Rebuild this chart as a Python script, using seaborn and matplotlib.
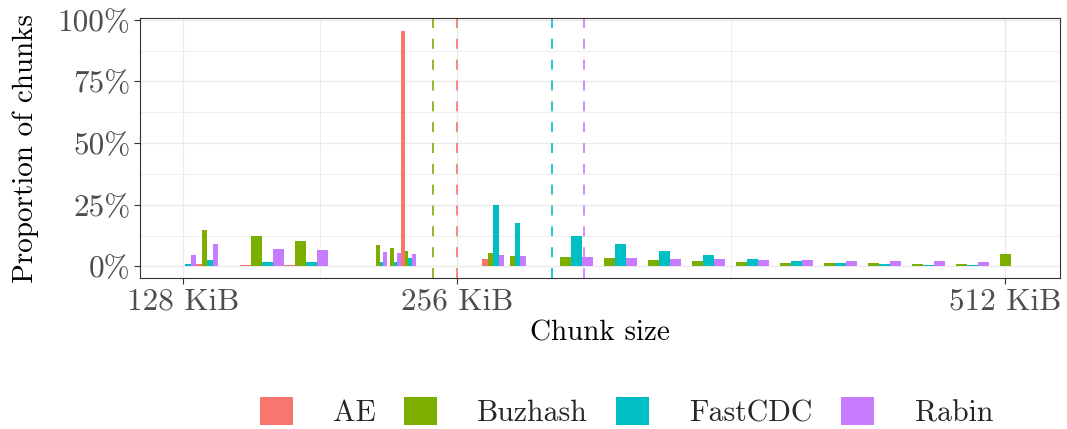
import numpy as np
import pandas as pd
import matplotlib
matplotlib.use("Agg")
import matplotlib.pyplot as plt
import seaborn as sns

# 알고리즘 / 색상 (ggplot 기본 hue)
algorithms = ["AE", "Buzhash", "FastCDC", "Rabin"]
palette = ["#F8766D", "#7CAE00", "#00BFC4", "#C77CFF"]

# 청크 크기 구간 경계 (KiB)
bin_edges = [123.8, 134.1, 144.35, 154.6, 175.2, 195.7, 216.3, 223.3, 229.8, 236.8,
             267.7, 278.0, 288.2, 299.0, 319.5, 340.0, 360.6, 381.1, 401.7, 422.2,
             442.8, 463.4, 483.9, 504.5, 525.0]

# 구간별 비율 (%)
ae_share = [0, 0.8, 0, 0.4, 0.4, 0, 0.3, 0.3, 95.5, 0, 3.1, 0.3, 0,
            0.3, 0.3, 0.3, 0.3, 0.3, 0.3, 0.3, 0.3, 0.3, 0.3, 0.3]
buzhash_share = [0, 14.9, 0, 12.2, 10.4, 0, 8.8, 7.6, 6.4, 0, 5.5, 4.3, 0,
                 3.9, 3.5, 2.7, 2.3, 1.9, 1.5, 1.5, 1.5, 1.1, 1.1, 5.1]
fastcdc_share = [0.8, 2.4, 0, 1.9, 1.9, 0, 1.9, 1.9, 3.5, 0, 25.0, 17.7, 0,
                 12.4, 9.2, 6.4, 4.7, 3.1, 2.3, 1.5, 1.1, 0.7, 0.7, 0]
rabin_share = [4.5, 8.9, 0, 7.2, 6.8, 0, 6.0, 5.6, 5.1, 0, 4.7, 4.3, 0,
               3.9, 3.5, 3.1, 3.1, 2.7, 2.7, 2.3, 2.3, 2.3, 1.9, 0]

# 평균 청크 크기 (KiB) - 점선
mean_size = [256.0, 244.8, 300.4, 315.3]

x_ticks = [128, 256, 512]
x_ticklabels = ["128 KiB", "256 KiB", "512 KiB"]
y_ticks = [0, 25, 50, 75, 100]
y_ticklabels = ["0%", "25%", "50%", "75%", "100%"]

# long format 으로 변환
edges = np.array(bin_edges)
centers = (edges[:-1] + edges[1:]) / 2
shares = [ae_share, buzhash_share, fastcdc_share, rabin_share]
df = pd.concat([
    pd.DataFrame({"size": centers, "share": s, "algorithm": a})
    for a, s in zip(algorithms, shares)
], ignore_index=True)

sns.set_style("whitegrid")
plt.rcParams['font.family'] = ['cmr10', 'DejaVu Serif']
plt.rcParams['mathtext.fontset'] = 'cm'
plt.rcParams['axes.unicode_minus'] = False

fig = plt.figure(figsize=(10.67, 4.29), dpi=100)
ax = fig.add_axes([0.1312, 0.352, 0.8622, 0.606])

sns.histplot(
    data=df, x="size", weights="share", hue="algorithm",
    hue_order=algorithms, palette=palette, bins=bin_edges,
    multiple="dodge", alpha=1, linewidth=0, ax=ax
)

# 평균 점선
for m, c in zip(mean_size, palette):
    ax.axvline(m, color=c, linestyle=(0, (6, 6.5)), linewidth=1.2, zorder=1)

ax.set_xlim(107.9, 537.7)
ax.set_ylim(-4.7, 100.7)
ax.set_xticks(x_ticks)
ax.set_xticklabels(x_ticklabels)
ax.set_yticks(y_ticks)
ax.set_yticklabels(y_ticklabels)
ax.set_xticks([192, 384], minor=True)
ax.set_yticks([12.5, 37.5, 62.5, 87.5], minor=True)

ax.set_axisbelow(True)
ax.grid(which='major', color='#EBEBEB', linewidth=1.0)
ax.grid(which='minor', color='#EBEBEB', linewidth=0.6)
ax.tick_params(which='major', length=4, width=0.8, color='#333333',
               labelcolor='#4D4D4D', labelsize=22.5, pad=3,
               bottom=True, left=True)
ax.tick_params(which='minor', length=0)

for sp in ax.spines.values():
    sp.set_visible(True)
    sp.set_color('#333333')
    sp.set_linewidth(0.8)

ax.set_xlabel("Chunk size", fontsize=21, color='black', labelpad=3)
ax.set_ylabel("Proportion of chunks", fontsize=21, color='black', labelpad=13)

sns.move_legend(
    ax, "center", bbox_to_anchor=(0.587, 1 - 412 / 429),
    bbox_transform=fig.transFigure, ncol=4, title=None, frameon=False,
    fontsize=21.5, handlelength=1.1, handleheight=1.1,
    handletextpad=1.35, columnspacing=0.95
)

fig.savefig("out.png", dpi=100)
